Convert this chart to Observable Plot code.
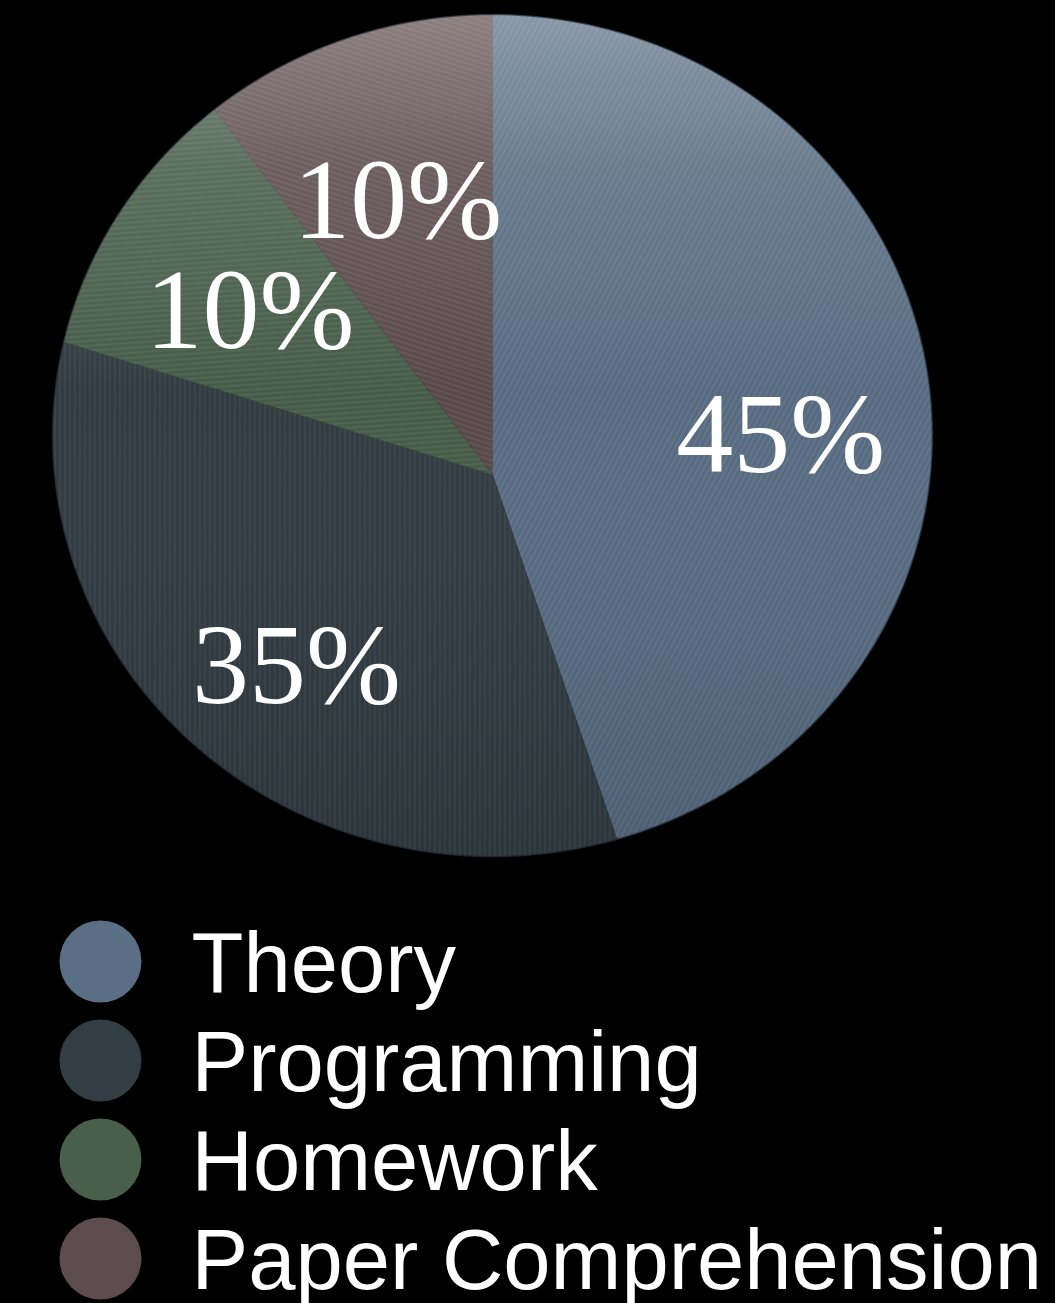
<!DOCTYPE html>
<html><head><meta charset="utf-8">
<script src="https://cdn.jsdelivr.net/npm/d3@7"></script>
<script src="https://cdn.jsdelivr.net/npm/@observablehq/plot@0.6"></script>
<style>
html,body{margin:0;padding:0;background:#000;}
#chart svg,#legend svg{display:block}
</style></head><body><div id="chart"></div><div id="legend"></div>
<script>
const categories = ["Theory","Programming","Homework","Paper Comprehension"];
const shares = [45,35,10,10];
const labels = ["45%","35%","10%","10%"];
const colors = ["#5a6e84","#333e44","#485f4b","#5d4c4d"];

// perspective tilt of the disc (pie drawn as a tilted disc)
const tilt = 0.0926;
const project = (u,v) => ({X: u/(1+tilt*v), Y: v/(1+tilt*v)});

const arcs = d3.pie().sort(null).value(d=>d)(shares);
const slicePts = [];
const outline = [];
arcs.forEach((a,i)=>{
  const n = Math.max(12, Math.ceil((a.endAngle-a.startAngle)*80));
  slicePts.push({cat: categories[i], ...project(0,0)});
  for (let j=0;j<=n;j++){
    const t = a.startAngle + (a.endAngle-a.startAngle)*j/n;
    slicePts.push({cat: categories[i], ...project(Math.sin(t), -Math.cos(t))});
  }
});
for (let j=0;j<=360;j++){ const t = j*Math.PI/180; outline.push(project(Math.sin(t), -Math.cos(t))); }

const labelR = 0.66;
const labelData = arcs.map((a,i)=>{
  const m = (a.startAngle+a.endAngle)/2;
  return {label: labels[i], ...project(labelR*Math.sin(m), -labelR*Math.cos(m))};
});

const texMarks = categories.map((c,i)=>Plot.line(slicePts.filter(d=>d.cat===c), {x:"X", y:"Y", fill:`url(#tex${i})`, stroke:"none"}));

const chart = Plot.plot({
  width: 1055, height: 900, margin: 0,
  style: {background: "transparent"},
  x: {domain: [-1,1], range: [54,930], axis: null},
  y: {domain: [-1,1], range: [56.6,891.4], axis: null},
  color: {domain: categories, range: colors},
  marks: [
    Plot.line(slicePts, {x:"X", y:"Y", z:"cat", fill:"cat", stroke:"cat", strokeWidth:0.5}),
    ...texMarks,
    Plot.line(outline, {x:"X", y:"Y", fill:"url(#shade)", stroke:"#1c2630", strokeWidth:1.5, strokeOpacity:0.6}),
    Plot.text(labelData, {x:"X", y:"Y", text:"label", fill:"white", fontSize:114, dy:5, fontFamily:"Liberation Serif, DejaVu Serif, serif"})
  ]
});

const svg = d3.select(chart);
const defs = svg.insert("defs", ":first-child");
const g = defs.append("linearGradient").attr("id","shade").attr("x1",0).attr("y1",0).attr("x2",0).attr("y2",1);
[[0,"#ffffff",0.30],[0.18,"#ffffff",0.12],[0.45,"#ffffff",0.0],[0.8,"#000000",0.04],[1,"#000000",0.12]].forEach(([o,c,op])=>g.append("stop").attr("offset",o).attr("stop-color",c).attr("stop-opacity",op));
const texRot = [-62, 90, -4, 18];
texRot.forEach((r,i)=>{
  const p = defs.append("pattern").attr("id",`tex${i}`).attr("patternUnits","userSpaceOnUse").attr("width",40).attr("height",5).attr("patternTransform",`rotate(${r})`);
  p.append("rect").attr("x",0).attr("y",0).attr("width",40).attr("height",1.2).attr("fill","#ffffff").attr("fill-opacity",0.06);
  p.append("rect").attr("x",0).attr("y",2.5).attr("width",40).attr("height",1.2).attr("fill","#000000").attr("fill-opacity",0.07);
});
document.getElementById("chart").appendChild(chart);

const legend = Plot.plot({
  width: 1055, height: 403, margin: 0,
  style: {background: "transparent"},
  y: {type: "point", domain: categories, range: [61,358], padding: 0, axis: null},
  color: {domain: categories, range: colors},
  marks: [
    Plot.dot(categories, {y: d=>d, fill: d=>d, r: 41, frameAnchor: "left", dx: 100}),
    Plot.text(categories, {y: d=>d, text: d=>d, frameAnchor: "left", textAnchor: "start", dx: 191, dy: 3, fill: "white", fontSize: 85, fontFamily: "Liberation Sans, Arial, sans-serif"})
  ]
});
document.getElementById("legend").appendChild(legend);
</script></body></html>
